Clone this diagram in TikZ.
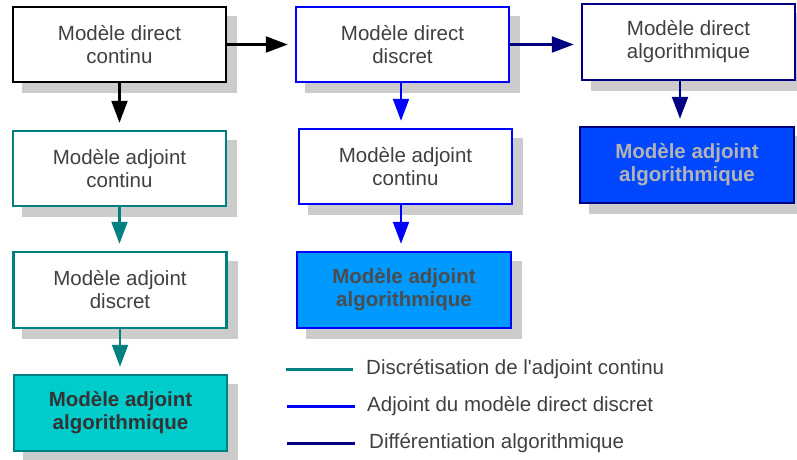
\documentclass[tikz,border=0pt]{standalone}
\usepackage{fontspec}
\setmainfont{Liberation Sans}
\usetikzlibrary{arrows.meta}
\definecolor{txt}{HTML}{404040}
\definecolor{shd}{HTML}{CCCCCC}
\definecolor{tealc}{HTML}{008080}
\definecolor{bluec}{HTML}{0000FF}
\definecolor{navyc}{HTML}{000080}
\definecolor{fillteal}{HTML}{00CCCC}
\definecolor{fillblue}{HTML}{0099FF}
\definecolor{filldeep}{HTML}{0047FF}
\definecolor{lighttxt}{HTML}{B3B3B3}
\begin{document}
\begin{tikzpicture}[x=1pt,y=-1pt,
  box/.style={draw, line width=2.5pt, fill=white, minimum width=213pt, minimum height=75pt,
    inner sep=0pt, align=center, text=txt,
    font=\fontsize{20.5}{23}\selectfont,
    preaction={fill=shd, draw=shd, transform canvas={xshift=10pt,yshift=-10pt}}},
  boldbox/.style={box, font=\fontsize{20.5}{23}\selectfont\bfseries},
  arr/.style={line width=2.2pt, -{Triangle[length=22pt,width=16pt]}, shorten >=7pt},
  leg/.style={line width=3pt},
  legtxt/.style={anchor=west, text=txt, inner sep=0pt, font=\fontsize{20.5}{23}\selectfont}
]
\useasboundingbox (0,0) rectangle (797,459);
% column 1
\node[box, draw=black] (A) at (119.5,44.5) {Modèle direct\\continu};
\node[box, draw=tealc] (B) at (119.5,168.5) {Modèle adjoint\\continu};
\node[box, draw=tealc, minimum height=76pt] (C) at (120,290) {Modèle adjoint\\discret};
\node[boldbox, draw=tealc, fill=fillteal, minimum height=76pt, text=black!80] (D) at (120.5,413) {Modèle adjoint\\algorithmique};
% column 2
\node[box, draw=bluec] (E) at (402.5,44.5) {Modèle direct\\discret};
\node[box, draw=bluec] (F) at (405.5,166.5) {Modèle adjoint\\continu};
\node[boldbox, draw=bluec, fill=fillblue, minimum width=214pt, minimum height=76pt, text=black!70] (G) at (404,290) {Modèle adjoint\\algorithmique};
% column 3
\node[box, draw=navyc, minimum height=76pt] (H) at (688.5,42) {Modèle direct\\algorithmique};
\node[boldbox, draw=navyc, fill=filldeep, minimum width=214pt, minimum height=76pt, text=lighttxt] (I) at (687,165) {Modèle adjoint\\algorithmique};
% arrows
\draw[arr, black] (A.east) -- (A.east -| E.west);
\draw[arr, navyc] (E.east) -- (E.east -| H.west);
\draw[arr, black] (A.south) -- (A.south |- B.north);
\draw[arr, tealc] (B.south) -- (B.south |- C.north);
\draw[arr, tealc] (C.south) -- (C.south |- D.north);
\coordinate (e1) at (401,82);
\coordinate (g1) at (401,204);
\draw[arr, bluec] (e1) -- (e1 |- F.north);
\draw[arr, bluec] (g1) -- (g1 |- G.north);
\coordinate (h1) at (680,80);
\draw[arr, navyc] (h1) -- (h1 |- I.north);
% legend
\coordinate (l1a) at (286,369); \coordinate (l1b) at (353,369);
\coordinate (l2a) at (287,406); \coordinate (l2b) at (355,406);
\coordinate (l3a) at (287,443); \coordinate (l3b) at (355,443);
\draw[leg, tealc] (l1a) -- (l1b);
\draw[leg, bluec] (l2a) -- (l2b);
\draw[leg, navyc] (l3a) -- (l3b);
\node[legtxt] (t1) at (366,369) {Discrétisation de l\textquotesingle adjoint continu};
\node[legtxt] (t2) at (367,406) {Adjoint du modèle direct discret};
\node[legtxt] (t3) at (369,443) {Différentiation algorithmique};
\end{tikzpicture}
\end{document}
